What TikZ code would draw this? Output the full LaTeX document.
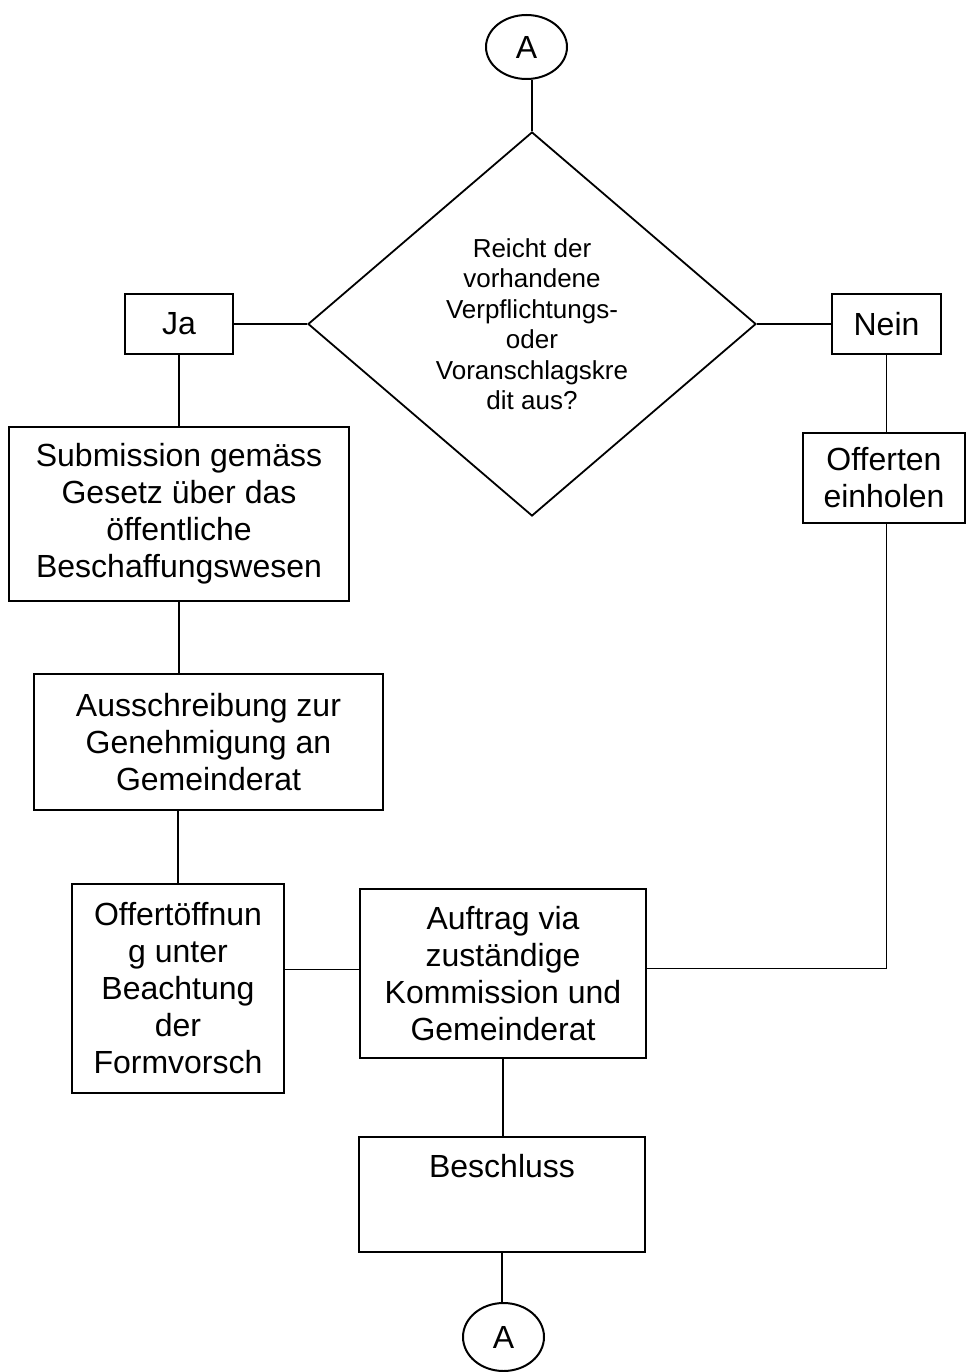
\documentclass[tikz,border=0pt]{standalone}
\usepackage{fontspec}
\setmainfont{Liberation Sans}
\usetikzlibrary{shapes.geometric}

\tikzset{
  box/.style={draw, line width=2pt, inner sep=0pt, align=center,
              font=\fontsize{32}{37}\selectfont},
  conn/.style={draw, line width=2pt, ellipse, inner sep=0pt,
               font=\fontsize{32}{37}\selectfont},
  decision/.style={draw, line width=1.8pt, diamond, inner sep=0pt, align=center,
                   minimum width=448pt, minimum height=384pt,
                   font=\fontsize{26}{30.5}\selectfont},
  link/.style={line width=1.9pt},
}

\begin{document}
\begin{tikzpicture}[x=1pt, y=-1pt]
  \useasboundingbox (0,0) rectangle (966,1372);

  % connector circles
  \node[conn, minimum width=81pt, minimum height=64pt] (topA) at (526.5,47) {A};
  \node[conn, minimum width=81pt, minimum height=68pt] (botA) at (503.5,1337) {A};

  % decision
  \node[decision] (dec) at (532,324)
    {Reicht der\\vorhandene\\Verpflichtungs-\\oder\\Voranschlagskre\\dit aus?};

  % answers
  \node[box, minimum width=108pt, minimum height=60pt] (ja) at (179,324) {Ja};
  \node[box, minimum width=109pt, minimum height=60pt] (nein) at (886.5,324) {Nein};

  % left branch
  \node[box, minimum width=340pt, minimum height=174pt] (sub) at (179,514)
    {Submission gemäss\\Gesetz über das\\öffentliche\\Beschaffungswesen};
  \node[box, minimum width=349pt, minimum height=136pt] (aus) at (208.5,742)
    {Ausschreibung zur\\Genehmigung an\\Gemeinderat};
  \node[box, minimum width=212pt, minimum height=209pt] (offoe) at (178,988.5)
    {Offertöffnun\\g unter\\Beachtung\\der\\Formvorsch};

  % right branch
  \node[box, minimum width=162pt, minimum height=90pt] (off) at (884,478)
    {Offerten\\einholen};

  % joint steps
  \node[box, minimum width=286pt, minimum height=169pt] (auf) at (503,973.5)
    {Auftrag via\\zuständige\\Kommission und\\Gemeinderat};
  \node[box, minimum width=286pt, minimum height=115pt,
        label={[anchor=north, inner sep=0pt, yshift=-18pt,
                font=\fontsize{32}{37}\selectfont]north:Beschluss}] (bes) at (502,1194.5) {};

  % links
  \draw[link] (dec.north) -- (dec.north |- topA.south);
  \draw[link] (ja.east) -- (dec.west);
  \draw[link] (dec.east) -- (nein.west);
  \draw[link] (ja.south) -- (sub.north);
  \draw[link] (nein.south) -- (nein.south |- off.north);
  \draw[link] (sub.south) -- (sub.south |- aus.north);
  \draw[link] (offoe.north |- aus.south) -- (offoe.north);
  \draw[link] ([yshift=4pt]auf.west -| offoe.east) -- ([yshift=4pt]auf.west);
  \draw[link] (nein.south |- off.south) |- ([yshift=5pt]auf.east);
  \draw[link] (auf.south) -- (auf.south |- bes.north);
  \draw[link] (bes.south) -- (bes.south |- botA.north);
\end{tikzpicture}
\end{document}
